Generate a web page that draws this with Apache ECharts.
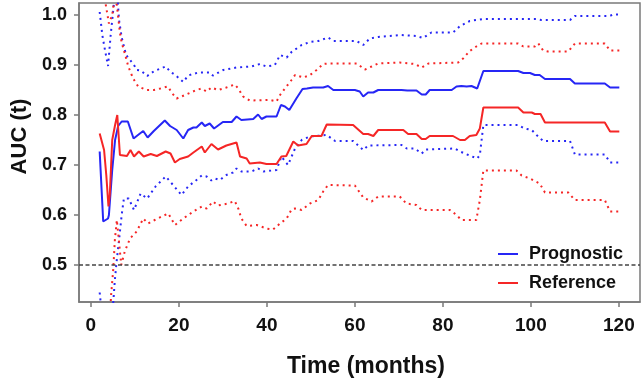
<!DOCTYPE html>
<html>
<head>
<meta charset="utf-8">
<script src="https://cdn.jsdelivr.net/npm/echarts@6/dist/echarts.min.js"></script>
<style>
  html, body { margin: 0; padding: 0; background: #fff; }
  #auc-chart { width: 644px; height: 385px; }
</style>
</head>
<body>
<div id="auc-chart"></div>
<script>
// time in months, AUC(t)
const prognosticAuc = [[2.0,0.727],[2.8,0.587],[3.9,0.593],[4.1,0.6],[4.85,0.69],[5.5,0.75],[6.2,0.778],[7.0,0.787],[8.4,0.787],[9.7,0.753],[11.0,0.762],[11.9,0.768],[12.9,0.755],[14.3,0.768],[16.8,0.789],[18.0,0.778],[19.5,0.77],[21.0,0.753],[22.1,0.77],[23.3,0.775],[24.0,0.775],[25.2,0.785],[25.9,0.778],[27.0,0.783],[28.0,0.773],[30.0,0.786],[32.0,0.786],[33.1,0.797],[34.2,0.79],[36.9,0.792],[38.0,0.801],[38.8,0.792],[39.9,0.797],[42.2,0.797],[43.2,0.82],[44.1,0.817],[45.1,0.81],[46.7,0.833],[48.1,0.852],[49.1,0.853],[50.5,0.855],[52.8,0.855],[53.9,0.858],[55.1,0.85],[60.0,0.85],[61.1,0.847],[61.9,0.837],[63.0,0.845],[64.2,0.845],[65.3,0.85],[70.6,0.85],[71.0,0.853],[71.9,0.849],[74.0,0.849],[75.2,0.841],[76.1,0.841],[77.0,0.85],[82.0,0.85],[83.1,0.857],[84.2,0.858],[85.4,0.857],[86.5,0.858],[87.8,0.853],[89.2,0.888],[97.1,0.888],[98.3,0.884],[99.8,0.884],[100.9,0.88],[102.0,0.88],[103.2,0.872],[108.9,0.872],[110.0,0.863],[116.8,0.863],[118.0,0.855],[120.1,0.855]];

const referenceAuc = [[2.0,0.763],[3.0,0.73],[3.5,0.68],[4.0,0.617],[4.3,0.64],[4.85,0.75],[5.5,0.78],[6.0,0.80],[6.6,0.72],[8.2,0.718],[9.0,0.73],[9.8,0.717],[10.9,0.727],[12.0,0.717],[13.6,0.722],[15.0,0.718],[17.0,0.727],[18.1,0.723],[19.1,0.705],[20.2,0.712],[22.1,0.717],[23.3,0.725],[25.2,0.737],[25.9,0.725],[27.4,0.742],[28.9,0.731],[30.8,0.739],[33.1,0.745],[33.9,0.717],[35.4,0.713],[36.1,0.703],[38.4,0.705],[39.9,0.702],[42.2,0.702],[43.3,0.717],[44.4,0.718],[46.0,0.747],[47.1,0.739],[49.0,0.742],[50.2,0.758],[52.4,0.758],[53.6,0.781],[59.6,0.78],[61.9,0.762],[63.0,0.762],[64.2,0.758],[65.3,0.77],[71.0,0.77],[72.1,0.762],[74.0,0.762],[75.2,0.752],[76.1,0.752],[77.0,0.758],[82.3,0.758],[83.9,0.75],[85.0,0.75],[86.1,0.758],[87.6,0.76],[88.4,0.773],[89.2,0.815],[97.1,0.815],[98.3,0.805],[100.2,0.805],[100.9,0.802],[102.2,0.802],[103.2,0.785],[116.8,0.785],[118.0,0.767],[120.1,0.767]];

const prognosticUpper = [[2.0,1.006],[2.6,0.96],[3.2,0.93],[3.9,0.898],[4.5,0.96],[5.2,1.02],[5.6,1.05],[6.0,1.04],[6.4,0.99],[7.0,0.955],[8.0,0.92],[9.8,0.9],[10.4,0.89],[11.3,0.889],[12.8,0.878],[14.4,0.888],[17.0,0.897],[18.0,0.887],[19.3,0.879],[21.0,0.866],[22.1,0.879],[24.4,0.885],[27.0,0.885],[27.7,0.879],[30.1,0.89],[33.1,0.895],[36.5,0.897],[38.4,0.902],[39.9,0.897],[41.8,0.9],[43.0,0.92],[44.5,0.915],[45.6,0.926],[47.9,0.94],[49.8,0.946],[51.7,0.948],[53.9,0.955],[55.1,0.948],[60.4,0.948],[61.9,0.94],[63.4,0.953],[65.3,0.956],[70.6,0.96],[74.0,0.958],[75.5,0.954],[77.4,0.965],[82.3,0.965],[83.9,0.978],[86.1,0.988],[87.6,0.99],[89.2,0.992],[101.3,0.992],[101.7,0.995],[102.4,0.99],[108.9,0.99],[110.0,0.998],[117.9,0.998],[118.7,1.001],[120.1,1.001]];

const prognosticLower = [[2.0,0.445],[2.4,0.41],[3.2,0.36],[4.2,0.34],[4.9,0.39],[5.1,0.427],[5.45,0.47],[5.8,0.503],[6.4,0.55],[7.0,0.6],[7.5,0.633],[8.6,0.633],[9.8,0.61],[11.3,0.643],[12.8,0.633],[14.7,0.657],[17.0,0.677],[18.0,0.667],[20.6,0.64],[22.1,0.657],[24.0,0.67],[25.2,0.679],[26.3,0.677],[27.4,0.669],[28.2,0.673],[29.3,0.67],[30.8,0.68],[32.3,0.685],[33.1,0.693],[34.2,0.687],[36.5,0.687],[38.0,0.693],[39.2,0.687],[42.2,0.69],[43.3,0.717],[44.8,0.70],[46.4,0.733],[47.9,0.75],[49.8,0.757],[53.6,0.76],[55.5,0.748],[59.6,0.748],[61.9,0.73],[63.0,0.739],[70.6,0.74],[71.8,0.733],[73.6,0.733],[75.2,0.723],[76.1,0.731],[82.7,0.733],[83.9,0.727],[85.8,0.72],[87.8,0.713],[88.4,0.72],[89.2,0.78],[97.1,0.78],[98.6,0.773],[100.2,0.77],[101.3,0.76],[102.8,0.748],[108.9,0.748],[110.0,0.721],[116.8,0.721],[118.0,0.705],[120.1,0.705]];

const referenceUpper = [[2.0,1.08],[3.2,1.03],[4.1,0.983],[4.85,1.0],[5.3,1.03],[5.9,1.02],[6.6,0.965],[7.0,0.945],[7.9,0.917],[8.5,0.897],[9.6,0.873],[10.75,0.857],[12.7,0.85],[14.3,0.85],[15.8,0.853],[17.5,0.857],[18.5,0.843],[19.5,0.833],[21.4,0.84],[24.0,0.85],[25.2,0.853],[26.3,0.847],[27.4,0.855],[28.9,0.85],[30.8,0.855],[32.7,0.861],[33.5,0.853],[34.6,0.837],[36.1,0.829],[40.7,0.83],[42.2,0.827],[43.0,0.84],[44.1,0.853],[45.6,0.87],[46.4,0.88],[48.3,0.875],[49.8,0.88],[51.3,0.89],[52.8,0.902],[53.9,0.903],[60.4,0.903],[62.3,0.891],[63.8,0.897],[65.3,0.903],[70.2,0.905],[73.6,0.902],[75.2,0.895],[76.7,0.903],[83.5,0.905],[84.6,0.913],[86.1,0.928],[87.6,0.937],[88.8,0.943],[97.1,0.943],[98.3,0.937],[100.9,0.937],[101.7,0.943],[102.8,0.929],[103.9,0.927],[108.5,0.927],[110.0,0.943],[116.8,0.943],[118.0,0.929],[120.1,0.929]];

const referenceLower = [[4.2,0.38],[4.6,0.44],[5.1,0.493],[5.45,0.55],[5.9,0.59],[6.3,0.555],[6.9,0.50],[7.7,0.527],[8.9,0.553],[10.4,0.567],[11.9,0.593],[13.0,0.583],[14.5,0.59],[16.1,0.597],[17.6,0.603],[19.1,0.58],[21.0,0.593],[23.3,0.607],[25.2,0.617],[26.3,0.613],[27.8,0.627],[28.9,0.619],[31.2,0.623],[32.7,0.628],[33.5,0.613],[34.2,0.593],[35.4,0.578],[37.7,0.58],[39.9,0.573],[41.4,0.571],[43.0,0.583],[44.5,0.593],[45.6,0.611],[46.4,0.613],[47.9,0.61],[49.8,0.623],[51.7,0.63],[52.8,0.647],[53.9,0.66],[60.0,0.659],[61.9,0.635],[63.8,0.627],[65.3,0.637],[70.2,0.637],[71.7,0.623],[74.0,0.62],[75.2,0.61],[81.6,0.61],[83.1,0.60],[84.2,0.59],[87.6,0.59],[88.4,0.63],[89.2,0.689],[96.7,0.689],[97.9,0.679],[99.8,0.673],[102.0,0.663],[103.2,0.645],[108.5,0.645],[110.0,0.63],[116.8,0.63],[118.0,0.607],[120.1,0.607]];

const xTicks = [0, 20, 40, 60, 80, 100, 120];
const yTicks = [0.5, 0.6, 0.7, 0.8, 0.9, 1.0];

const blue = '#2626f5';
const red = '#f52626';
const axisGray = '#7a7a7a';
const font = 'Arial, "Liberation Sans", sans-serif';

const chart = echarts.init(document.getElementById('auc-chart'));

const dotted = (name, data, color) => ({
    name: name,
    type: 'line',
    data: data,
    symbol: 'none',
    clip: true,
    lineStyle: { color: color, width: 2, type: [2, 4] },
    z: 2
});

chart.setOption({
    animation: false,
    grid: {
        left: 79, right: 4, top: 3, bottom: 83,
        show: true, borderColor: axisGray, borderWidth: 1.5
    },
    legend: {
        data: ['Prognostic', 'Reference'],
        orient: 'vertical',
        left: 492,
        top: 240,
        itemWidth: 20,
        itemHeight: 14,
        itemGap: 11,
        itemStyle: { opacity: 0 },
        lineStyle: { width: 2 },
        textStyle: {
            fontFamily: font, fontWeight: 'bold', fontSize: 18,
            color: '#111', lineHeight: 14, padding: [0, 0, 0, 6]
        }
    },
    xAxis: {
        type: 'value',
        min: -2.7,
        max: 124.8,
        name: 'Time (months)',
        nameLocation: 'middle',
        nameGap: 53,
        nameTextStyle: {
            fontFamily: font, fontWeight: 'bold', fontSize: 23, color: '#111',
            padding: [0, 0, 0, 13]
        },
        splitLine: { show: false },
        axisLine: { onZero: false, lineStyle: { color: axisGray, width: 1.5 } },
        axisTick: { customValues: xTicks, length: 5, lineStyle: { color: axisGray, width: 1.5 } },
        axisLabel: {
            customValues: xTicks, margin: 14,
            fontFamily: font, fontWeight: 'bold', fontSize: 19, color: '#111'
        }
    },
    yAxis: {
        type: 'value',
        min: 0.426,
        max: 1.024,
        name: 'AUC (t)',
        nameLocation: 'middle',
        nameRotate: 90,
        nameGap: 44,
        nameTextStyle: {
            fontFamily: font, fontWeight: 'bold', fontSize: 22, color: '#111',
            padding: [0, 0, 0, 32]
        },
        splitLine: { show: false },
        axisLine: { show: true, onZero: false, lineStyle: { color: axisGray, width: 1.5 } },
        axisTick: { show: true, customValues: yTicks, length: 5, lineStyle: { color: axisGray, width: 1.5 } },
        axisLabel: {
            customValues: yTicks, margin: 12,
            formatter: v => v.toFixed(1),
            fontFamily: font, fontWeight: 'bold', fontSize: 18, color: '#111'
        }
    },
    series: [
        dotted('Prognostic upper', prognosticUpper, blue),
        dotted('Prognostic lower', prognosticLower, blue),
        dotted('Reference upper', referenceUpper, red),
        dotted('Reference lower', referenceLower, red),
        {
            name: 'Prognostic',
            type: 'line',
            data: prognosticAuc,
            symbol: 'none',
            clip: true,
            color: blue,
            lineStyle: { color: blue, width: 2 },
            z: 3,
            markLine: {
                silent: true,
                symbol: ['none', 'none'],
                label: { show: false },
                lineStyle: { color: '#444', width: 1.5, type: [4, 2.5] },
                data: [{ yAxis: 0.5 }]
            }
        },
        {
            name: 'Reference',
            type: 'line',
            data: referenceAuc,
            symbol: 'none',
            clip: true,
            color: red,
            lineStyle: { color: red, width: 2 },
            z: 3
        }
    ]
});
</script>
</body>
</html>
